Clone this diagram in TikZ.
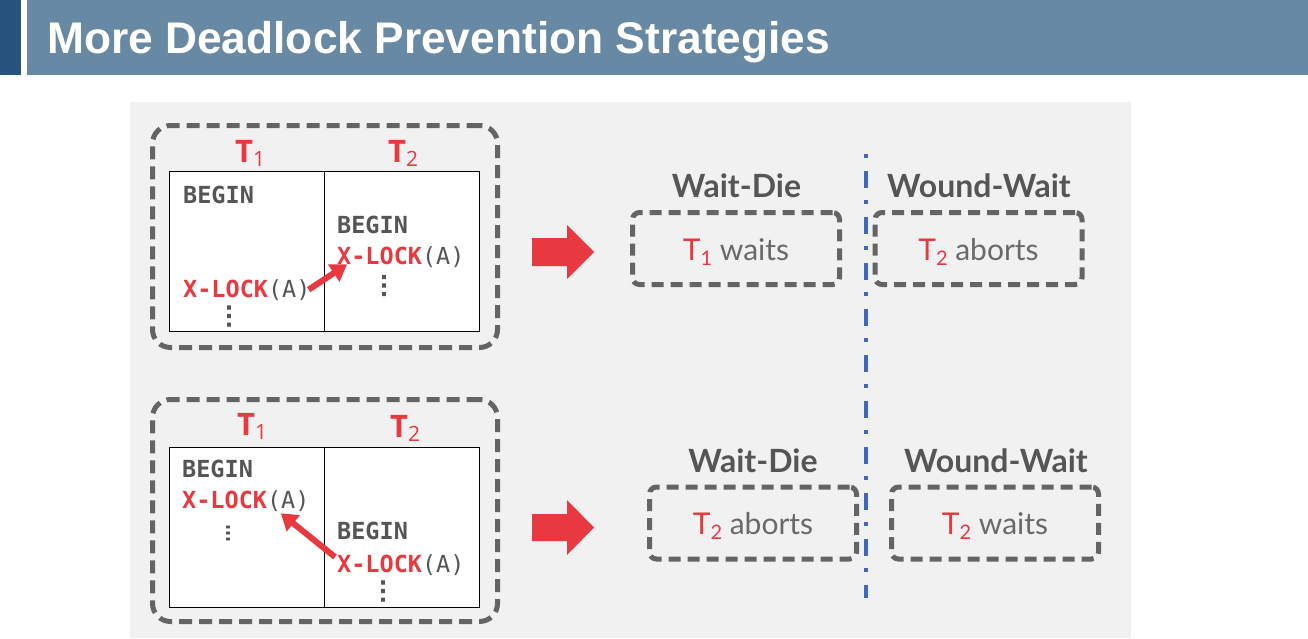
\documentclass[tikz,border=0pt]{standalone}
\usepackage{fontspec}
\setmainfont{Liberation Sans}
\setmonofont{DejaVu Sans Mono}
\newfontfamily\labfont{Open Sans}
\newfontfamily\resfont{Lato}
\newfontfamily\dotfont[FakeBold=4]{DejaVu Sans}
\usepackage{tikz}
\usetikzlibrary{positioning}
\usetikzlibrary{arrows.meta}
\definecolor{hdrdark}{RGB}{38,84,124}
\definecolor{hdrlight}{RGB}{104,137,163}
\definecolor{panelgray}{RGB}{241,241,241}
\definecolor{dashgray}{RGB}{100,100,100}
\definecolor{codegray}{RGB}{85,85,85}
\definecolor{resgray}{RGB}{105,105,105}
\definecolor{lockred}{RGB}{232,56,64}
\definecolor{divblue}{RGB}{60,104,196}

\begin{document}
\begin{tikzpicture}[x=1pt,y=-1pt,
		framebox/.style={draw=dashgray,line width=5pt,dash pattern=on 13pt off 7pt,rounded corners=18pt,minimum width=345pt,minimum height=222pt,inner sep=0pt},
		tbl/.style={draw=black,fill=white,line width=1pt,minimum width=310pt,minimum height=160pt,inner sep=0pt},
		tlab/.style={anchor=base west,inner sep=0pt,text=lockred,font=\labfont\fontsize{31}{31}\selectfont},
		code/.style={anchor=base west,inner sep=0pt,text=codegray,font=\ttfamily\fontsize{23.5}{23.5}\selectfont},
		vdts/.style={inner sep=0pt,text=codegray,font=\dotfont\fontsize{25}{25}\selectfont},
		lockarrow/.style={draw=lockred,line width=6pt,-{Triangle[length=16pt,width=20pt]}},
		bigarrow/.style={fill=lockred},
		resbox/.style={draw=dashgray,line width=5pt,dash pattern=on 12pt off 7pt,rounded corners=7pt,minimum width=207pt,minimum height=72pt,inner sep=0pt,text height=23pt,text depth=0pt,text=resgray,font=\resfont\fontsize{30}{30}\selectfont},
		restitle/.style={inner sep=0pt,text=codegray,font=\resfont\bfseries\fontsize{32}{32}\selectfont},
		divline/.style={draw=divblue,line width=3.5pt,dash pattern=on 4pt off 13pt on 17pt off 12pt}]
	\useasboundingbox (0,0) rectangle (1308,638);
	% header
	\fill[hdrdark] (0,0) rectangle (21,75);
	\fill[hdrlight] (27,0) rectangle (1308,75);
	\node[anchor=base west,inner sep=0pt,text=white,font=\bfseries\fontsize{44.3}{44.3}\selectfont] (title) at (47,53.5) {More Deadlock Prevention Strategies};
	\fill[panelgray] (130,102) rectangle (1131,638);

	% first case: T1 requests the lock held by T2
	\node[framebox] (frame1) at (325,236.5) {};
	\node[tbl] (tbl1) at (324,251.5) {};
	\draw[line width=1pt] (tbl1.north) -- (tbl1.south);
	\node[tlab] (ta1) at (235,162) {\textbf{T}\raisebox{-4pt}{\fontsize{21}{21}\selectfont 1}};
	\node[tlab] (ta2) at (388,162) {\textbf{T}\raisebox{-4pt}{\fontsize{21}{21}\selectfont 2}};
	\node[code] (a0) at (183,203) {\bfseries BEGIN};
	\node[code] (a1) at (183,297) {\textcolor{lockred}{\bfseries X-LOCK}(A)};
	\node[vdts] (ad) at (229,316) {⋮};
	\node[code] (b0) at (337,233) {\bfseries BEGIN};
	\node[code] (b1) at (337,264) {\textcolor{lockred}{\bfseries X-LOCK}(A)};
	\node[vdts] (bd) at (384,285.5) {⋮};
	\draw[lockarrow] ([xshift=-2pt]a1.east) -- ([xshift=10pt,yshift=3pt]b1.south west);
	\fill[bigarrow] (532,238) -- (567,238) -- (567,225) -- (594,252) -- (567,279) -- (567,266) -- (532,266) -- cycle;

	\node[restitle] (wd1t) at (736.5,186) {Wait-Die};
	\node[resbox] (wd1) at (736,248.5) {\textcolor{lockred}{T\raisebox{-5pt}{\fontsize{20}{20}\selectfont 1}} waits};
	\node[restitle] (ww1t) at (979,186) {Wound-Wait};
	\node[resbox] (ww1) at (978.5,248.5) {\textcolor{lockred}{T\raisebox{-5pt}{\fontsize{20}{20}\selectfont 2}} aborts};

	% second case: T2 requests the lock held by T1
	\node[framebox] (frame2) at (325,510.5) {};
	\node[tbl] (tbl2) at (324,527) {};
	\draw[line width=1pt] (tbl2.north) -- (tbl2.south);
	\node[tlab] (tc1) at (237,435) {\textbf{T}\raisebox{-4pt}{\fontsize{21}{21}\selectfont 1}};
	\node[tlab] (tc2) at (390,437) {\textbf{T}\raisebox{-4pt}{\fontsize{21}{21}\selectfont 2}};
	\node[code] (c0) at (182,477) {\bfseries BEGIN};
	\node[code] (c1) at (182,508) {\textcolor{lockred}{\bfseries X-LOCK}(A)};
	\node[vdts] (cd) at (228,533) {\scalebox{1}[0.7]{⋮}};
	\node[code] (d0) at (337,539) {\bfseries BEGIN};
	\node[code] (d1) at (337,572) {\textcolor{lockred}{\bfseries X-LOCK}(A)};
	\node[vdts] (dd) at (383,591) {⋮};
	\draw[lockarrow] ([xshift=-2pt,yshift=-3pt]d1.north west) -- ([xshift=35pt,yshift=-2pt]c1.south);
	\fill[bigarrow] (532,514) -- (567,514) -- (567,500) -- (594,527.5) -- (567,555) -- (567,541) -- (532,541) -- cycle;

	\node[restitle] (wd2t) at (753,461) {Wait-Die};
	\node[resbox] (wd2) at (753,523) {\textcolor{lockred}{T\raisebox{-5pt}{\fontsize{20}{20}\selectfont 2}} aborts};
	\node[restitle] (ww2t) at (996,461) {Wound-Wait};
	\node[resbox] (ww2) at (995,523) {\textcolor{lockred}{T\raisebox{-5pt}{\fontsize{20}{20}\selectfont 2}} waits};

	% divider between the two schemes
	\coordinate (dtop) at (866,154);
	\coordinate (dbot) at (866,598);
	\draw[divline] (dtop) -- (dbot);
\end{tikzpicture}
\end{document}
